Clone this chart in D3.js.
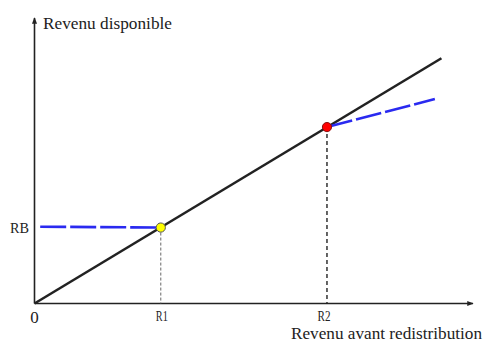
<!DOCTYPE html>
<html>
<head>
<meta charset="utf-8">
<script src="https://cdn.jsdelivr.net/npm/d3@7"></script>
<style>
  body { margin: 0; background: #fff; }
  svg text { font-family: "Times New Roman", "Liberation Serif", "DejaVu Serif", serif; fill: #222; }
</style>
</head>
<body>
<script>
// values (arbitrary units, 0..100 on both axes)
var diagonal = [[0, 0], [92.8, 85.9]];
var blueLow = [[1.3, 26.9], [28.8, 26.6]];
var blueHigh = [[66.7, 61.8], [91.3, 71.6]];
var pointNames = ["R1", "R2"];
var pointX = [28.8, 66.7];
var pointY = [26.6, 61.8];
var pointColors = ["#ffff00", "#ff0000"];
var yTickLabel = "RB";
var yTickValue = 26.9;
var xTitle = "Revenu avant redistribution";
var yTitle = "Revenu disponible";

var w = 484, h = 342;

var svg = d3.select("body").append("svg")
    .attr("width", w).attr("height", h);

var x = d3.scaleLinear().domain([0, 100]).range([34.5, 473]);
var y = d3.scaleLinear().domain([0, 100]).range([303.5, 18]);

var defs = svg.append("defs");
defs.append("marker")
    .attr("id", "arrow")
    .attr("viewBox", "0 0 10 10")
    .attr("refX", 9).attr("refY", 5)
    .attr("markerWidth", 4).attr("markerHeight", 4)
    .attr("orient", "auto")
  .append("path")
    .attr("d", "M0,1 L10,5 L0,9 z")
    .attr("fill", "#222");

// axes
svg.append("line")
    .attr("x1", x(0)).attr("y1", y(0))
    .attr("x2", x(0)).attr("y2", y(100))
    .attr("stroke", "#222").attr("stroke-width", 1.6)
    .attr("marker-end", "url(#arrow)");
svg.append("line")
    .attr("x1", x(0)).attr("y1", y(0))
    .attr("x2", x(100)).attr("y2", y(0))
    .attr("stroke", "#222").attr("stroke-width", 1.6)
    .attr("marker-end", "url(#arrow)");

var line = d3.line().x(function(d) { return x(d[0]); }).y(function(d) { return y(d[1]); });

// vertical guides
svg.append("line")
    .attr("x1", x(pointX[0])).attr("y1", y(pointY[0]))
    .attr("x2", x(pointX[0])).attr("y2", y(0))
    .attr("stroke", "#666").attr("stroke-width", 1)
    .attr("stroke-dasharray", "3,2");
svg.append("line")
    .attr("x1", x(pointX[1])).attr("y1", y(pointY[1]))
    .attr("x2", x(pointX[1])).attr("y2", y(0))
    .attr("stroke", "#222").attr("stroke-width", 1.4)
    .attr("stroke-dasharray", "4,3");

// 45 degree line
svg.append("path").datum(diagonal)
    .attr("d", line)
    .attr("fill", "none").attr("stroke", "#222").attr("stroke-width", 2.6);

// blue dashed segments
[blueLow, blueHigh].forEach(function(seg) {
    svg.append("path").datum(seg)
        .attr("d", line)
        .attr("fill", "none").attr("stroke", "#2a2af0").attr("stroke-width", 2.6)
        .attr("stroke-dasharray", "26,4");
});

// points
svg.selectAll("circle").data(pointX).enter().append("circle")
    .attr("cx", function(d) { return x(d); })
    .attr("cy", function(d, i) { return y(pointY[i]); })
    .attr("r", 4.6)
    .attr("fill", function(d, i) { return pointColors[i]; })
    .attr("stroke", function(d, i) { return i == 0 ? "#555" : "#8a1010"; })
    .attr("stroke-width", 1);

// tick labels
svg.append("text")
    .attr("x", x(0)).attr("y", 322.5)
    .attr("text-anchor", "middle")
    .style("font-size", "17px")
    .text("0");

svg.selectAll(".xlab").data(pointNames).enter().append("text")
    .attr("class", "xlab")
    .attr("x", function(d, i) { return x(pointX[i]) + (i == 0 ? 1 : -3); })
    .attr("y", 320.5)
    .attr("text-anchor", "middle")
    .style("font-size", "14.5px")
    .attr("textLength", function(d, i) { return i == 0 ? 12 : 13; })
    .attr("lengthAdjust", "spacingAndGlyphs")
    .text(function(d) { return d; });

svg.append("text")
    .attr("x", 29).attr("y", y(yTickValue) + 6)
    .attr("text-anchor", "end")
    .style("font-size", "15.5px")
    .attr("textLength", 19)
    .attr("lengthAdjust", "spacingAndGlyphs")
    .text(yTickLabel);

// axis titles
svg.append("text")
    .attr("x", 43).attr("y", 29)
    .style("font-size", "17.5px")
    .attr("textLength", 129)
    .attr("lengthAdjust", "spacingAndGlyphs")
    .text(yTitle);

svg.append("text")
    .attr("x", 291).attr("y", 338.5)
    .style("font-size", "16.5px")
    .attr("textLength", 191)
    .attr("lengthAdjust", "spacingAndGlyphs")
    .text(xTitle);
</script>
</body>
</html>
